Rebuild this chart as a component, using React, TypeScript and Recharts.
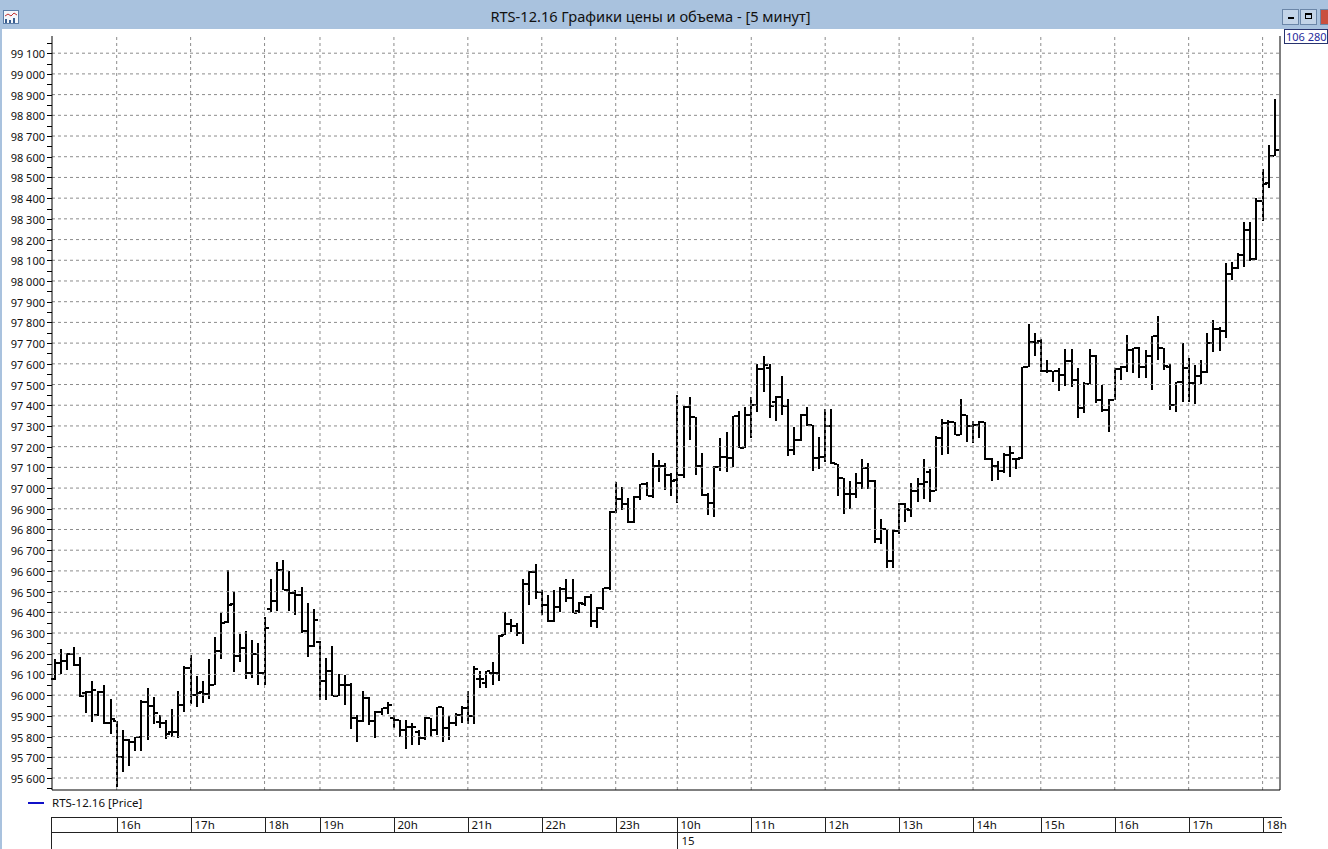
import { Bar, ComposedChart, ReferenceLine, XAxis, YAxis } from 'recharts';

// торговые сессии: день, час, минута начала, число 5-минутных баров
const SESSIONS: [string, number, number, number][] = [
  ['14', 15, 10, 43],
  ['14', 19, 0, 58],
  ['15', 10, 0, 48],
  ['15', 14, 5, 50],
];

const HOUR_TICKS = [
  '14 16:00', '14 17:00', '14 18:00', '14 19:00', '14 20:00', '14 21:00', '14 22:00', '14 23:00',
  '15 10:00', '15 11:00', '15 12:00', '15 13:00', '15 14:05', '15 15:00', '15 16:00', '15 17:00', '15 18:00',
];
const HOUR_LABELS = [
  '16h', '17h', '18h', '19h', '20h', '21h', '22h', '23h',
  '10h', '11h', '12h', '13h', '14h', '15h', '16h', '17h', '18h',
];
const DAY_TICK = '15 10:00';
const DAY_LABEL = '15';

const OPEN = [
  96078, 96155, 96165, 96200, 96145, 96010, 96013, 95905, 96013, 95864,
  95873, 95702, 95783, 95775, 95800, 95969, 95948, 95872, 95864, 95823, 95823, 95953,
  96131, 96001, 96013, 96006, 96050, 96212, 96352, 96440, 96188, 96226, 96106, 96199,
  96106, 96415, 96455, 96605, 96508, 96495, 96483, 96309, 96236,
  96255, 96066, 96115, 95998, 96050, 96050, 95889, 95873, 95985, 95873, 95921, 95937,
  95889, 95881, 95832, 95848, 95824, 95792, 95889, 95832, 95942, 95840, 95865, 95905,
  95937, 95900, 96076, 96060, 96108, 96108, 96289, 96342, 96334, 96302, 96539, 96595,
  96500, 96434, 96358, 96427, 96514, 96471, 96406, 96440, 96476, 96358, 96423, 96516,
  96885, 96945, 96925, 96835, 96957, 97020, 96960, 97105, 97105, 97064,
  97040, 97064, 97390, 97343, 97107, 96967, 96930, 97100, 97150, 97145, 97350, 97193,
  97355, 97400, 97575, 97580, 97414, 97440, 97398, 97186, 97230, 97355, 97305, 97146,
  97150, 97302, 97115, 97050, 96970, 96970, 97025, 97098, 97034, 96753, 96800, 96650,
  96793, 96925, 96895, 96985, 97022, 97080, 96985, 97242, 97315, 97318, 97258, 97352,
  97300, 97303, 97318, 97138, 97105, 97081, 97162, 97138, 97145, 97584, 97703,
  97710, 97563, 97563, 97563, 97547, 97612, 97523, 97386, 97504, 97636, 97423, 97378,
  97426, 97575, 97584, 97668, 97676, 97584, 97636, 97733, 97675, 97586, 97400, 97513,
  97578, 97505, 97540, 97562, 97700, 97770, 97760, 98034, 98062, 98126, 98247, 98108,
  98384, 98473, 98602,
];

const HIGH = [
  96176, 96223, 96205, 96232, 96185, 96020, 96066, 96018, 96050, 95980,
  95873, 95832, 95790, 95800, 95977, 96034, 95993, 95904, 95880, 95932, 96018, 96142,
  96196, 96093, 96066, 96176, 96281, 96395, 96603, 96498, 96293, 96312, 96265, 96252,
  96376, 96563, 96645, 96653, 96600, 96508, 96522, 96446, 96414,
  96260, 96179, 96235, 96102, 96095, 96061, 95905, 96021, 95993, 95924, 95937, 95969,
  95905, 95881, 95881, 95865, 95832, 95893, 95889, 95945, 95945, 95900, 95913, 95948,
  96018, 96140, 96116, 96116, 96160, 96289, 96402, 96366, 96350, 96560, 96600, 96632,
  96510, 96482, 96506, 96520, 96560, 96560, 96450, 96480, 96487, 96427, 96519, 96890,
  97030, 97005, 96950, 96960, 97020, 97027, 97170, 97135, 97120, 97072,
  97450, 97395, 97440, 97343, 97170, 96978, 97107, 97240, 97273, 97350, 97370, 97390,
  97440, 97600, 97640, 97600, 97443, 97540, 97430, 97295, 97360, 97390, 97305, 97245,
  97380, 97380, 97115, 97050, 97034, 97075, 97140, 97120, 97040, 96853, 96800, 96800,
  96930, 96930, 97025, 97050, 97138, 97090, 97250, 97334, 97328, 97320, 97430, 97352,
  97322, 97322, 97320, 97145, 97130, 97170, 97202, 97145, 97584, 97790, 97748,
  97720, 97620, 97563, 97580, 97671, 97671, 97580, 97510, 97671, 97644, 97500, 97430,
  97580, 97590, 97740, 97676, 97680, 97665, 97733, 97830, 97675, 97600, 97513, 97700,
  97627, 97594, 97619, 97747, 97812, 97776, 98086, 98094, 98134, 98287, 98287, 98400,
  98540, 98658, 98879,
];

const LOW = [
  96074, 96102, 96123, 96140, 95990, 95912, 95867, 95896, 95864, 95812,
  95556, 95629, 95660, 95731, 95731, 95783, 95861, 95840, 95790, 95799, 95790, 95920,
  95960, 95945, 95960, 95985, 96050, 96171, 96346, 96110, 96158, 96082, 96082, 96050,
  96050, 96405, 96409, 96508, 96409, 96385, 96300, 96184, 96230,
  95977, 95977, 95994, 95994, 95948, 95840, 95776, 95873, 95857, 95792, 95905, 95913,
  95840, 95800, 95743, 95760, 95760, 95784, 95803, 95808, 95776, 95784, 95848, 95865,
  95857, 95860, 96035, 96035, 96047, 96068, 96289, 96302, 96285, 96245, 96434, 96463,
  96390, 96350, 96350, 96400, 96447, 96395, 96395, 96430, 96326, 96326, 96414, 96510,
  96880, 96895, 96830, 96830, 96945, 96960, 96955, 97027, 96990, 96960,
  96930, 97045, 97232, 97064, 96960, 96870, 96862, 97080, 97080, 97105, 97193, 97190,
  97240, 97370, 97467, 97340, 97323, 97350, 97155, 97162, 97230, 97300, 97082, 97090,
  97122, 97114, 96960, 96875, 96900, 96953, 96995, 96995, 96734, 96734, 96610, 96610,
  96780, 96840, 96860, 96936, 96945, 96930, 96985, 97160, 97162, 97255, 97258, 97222,
  97218, 97242, 97138, 97033, 97040, 97073, 97050, 97090, 97138, 97580, 97636,
  97563, 97558, 97510, 97467, 97490, 97488, 97338, 97359, 97504, 97410, 97370, 97269,
  97426, 97523, 97563, 97555, 97531, 97531, 97470, 97618, 97570, 97378, 97368, 97416,
  97416, 97408, 97505, 97553, 97658, 97658, 97723, 98005, 98055, 98069, 98100, 98100,
  98287, 98448, 98602,
];

const CLOSE = [
  96155, 96165, 96200, 96145, 95995, 96015, 96025, 96013, 95864, 95883,
  95702, 95783, 95775, 95800, 95969, 95948, 95916, 95864, 95812, 95823, 95953, 96131,
  96001, 96010, 96005, 96050, 96212, 96350, 96435, 96188, 96226, 96106, 96199, 96106,
  96322, 96455, 96605, 96508, 96495, 96483, 96309, 96236, 96365,
  96066, 96115, 95994, 96050, 96050, 95889, 95873, 95985, 95873, 95921, 95937, 95953,
  95881, 95832, 95848, 95848, 95792, 95889, 95832, 95942, 95840, 95865, 95905, 95937,
  95897, 96124, 96076, 96115, 96108, 96285, 96342, 96334, 96302, 96539, 96595, 96500,
  96434, 96358, 96427, 96514, 96471, 96398, 96447, 96476, 96358, 96423, 96516, 96885,
  96945, 96925, 96835, 96957, 97020, 96960, 97105, 97105, 97064, 97032,
  97064, 97390, 97343, 97107, 96967, 96930, 97100, 97150, 97145, 97350, 97193, 97355,
  97400, 97575, 97596, 97395, 97440, 97398, 97186, 97230, 97355, 97305, 97146, 97150,
  97302, 97120, 97050, 96970, 96970, 97025, 97098, 97034, 96753, 96800, 96650, 96793,
  96925, 96900, 96985, 97022, 97030, 96985, 97242, 97315, 97318, 97258, 97352, 97300,
  97303, 97318, 97138, 97105, 97081, 97162, 97170, 97138, 97584, 97703, 97700,
  97563, 97563, 97563, 97547, 97612, 97523, 97386, 97504, 97636, 97423, 97378, 97426,
  97575, 97584, 97668, 97676, 97584, 97636, 97733, 97675, 97590, 97400, 97513, 97578,
  97505, 97540, 97562, 97700, 97770, 97760, 98034, 98062, 98126, 98247, 98108, 98384,
  98470, 98602, 98631,
];

const Y_DOMAIN = [95542, 99183];
const Y_TICKS: number[] = [];
for (let v = 95550; v <= 99150; v += 50) Y_TICKS.push(v);
const GRID_Y = Y_TICKS.filter((v) => v % 100 === 0);

const TIMES: string[] = [];
SESSIONS.forEach(([d, h, m, n]) => {
  for (let i = 0; i < n; i++) {
    const t = h * 60 + m + i * 5;
    TIMES.push(
      `${d} ${String(Math.floor(t / 60)).padStart(2, '0')}:${String(t % 60).padStart(2, '0')}`,
    );
  }
});

const data = TIMES.map((key, i) => ({
  key,
  open: OPEN[i],
  high: HIGH[i],
  low: LOW[i],
  close: CLOSE[i],
  range: [LOW[i], HIGH[i]],
}));

const FONT = '"Noto Sans", "DejaVu Sans", sans-serif';
const GRID = '#8c8c8c';

const fmt = (v: number) =>
  `${Math.floor(v / 1000)} ${String(v % 1000).padStart(3, '0')}`;

const OhlcBar = (props: any) => {
  const { x, y, width, height, payload } = props;
  if (x == null || y == null) return null;
  const cx = Math.round(x + width / 2);
  const span = payload.high - payload.low;
  const k = span > 0 ? height / span : 0;
  const oy = Math.round(y + (payload.high - payload.open) * k);
  const cy = Math.round(y + (payload.high - payload.close) * k);
  return (
    <g fill="#000" shapeRendering="crispEdges">
      <rect x={cx - 1} y={Math.round(y)} width={2} height={Math.max(2, Math.round(height))} />
      <rect x={cx - 4} y={oy - 1} width={3} height={2} />
      <rect x={cx + 1} y={cy - 1} width={3} height={2} />
    </g>
  );
};

const LeftTick = ({ x, y, payload }: any) => {
  const yy = Math.round(y) + 0.5;
  return (
    <g>
      <line x1={x - 5} x2={x} y1={yy} y2={yy} stroke="#000" />
      {payload.value % 100 === 0 && (
        <text x={x - 7} y={yy + 4} textAnchor="end" fontSize={11} fill="#111" fontFamily={FONT}>
          {fmt(payload.value)}
        </text>
      )}
    </g>
  );
};

const RightTick = ({ x, y, payload }: any) => {
  const yy = Math.round(y) + 0.5;
  return (
    <g>
      <line x1={x} x2={x + 5} y1={yy} y2={yy} stroke="#000" />
      {payload.value % 100 === 0 && (
        <text x={x + 8} y={yy + 4} textAnchor="start" fontSize={11} fill="#111" fontFamily={FONT}>
          {fmt(payload.value)}
        </text>
      )}
    </g>
  );
};

const HourTick = ({ x, y, payload }: any) => {
  const i = HOUR_TICKS.indexOf(payload.value);
  if (i < 0) return null;
  const xx = Math.round(x) + 0.5;
  const isDay = payload.value === DAY_TICK;
  return (
    <g>
      <line x1={xx} x2={xx} y1={y + 27} y2={isDay ? y + 59 : y + 42} stroke="#222" />
      <text x={xx + 3} y={y + 38.5} fontSize={11.5} fill="#111" fontFamily={FONT}>
        {HOUR_LABELS[i]}
      </text>
      {isDay && (
        <text x={xx + 4} y={y + 55} fontSize={11.5} fill="#111" fontFamily={FONT}>
          {DAY_LABEL}
        </text>
      )}
    </g>
  );
};

const Icon = () => (
  <svg width={16} height={14} style={{ position: 'absolute', left: 3, top: 10 }}>
    <rect x={0.5} y={0.5} width={15} height={13} fill="#f4f7fb" stroke="#5d7ea8" />
    <polyline points="2,6 5,4 8,6 11,3 14,5" fill="none" stroke="#c03030" strokeWidth={1} />
    <rect x={2} y={9} width={2} height={4} fill="#3a5f91" />
    <rect x={6} y={10} width={2} height={3} fill="#3a5f91" />
    <rect x={10} y={8} width={2} height={5} fill="#3a5f91" />
  </svg>
);

const btn = (left: number, width: number, bg: string): React.CSSProperties => ({
  position: 'absolute',
  left,
  top: 9,
  width,
  height: 16,
  background: bg,
  border: '1px solid #6b86a8',
  boxSizing: 'border-box',
});

export default function App() {
  return (
    <div
      style={{
        position: 'absolute',
        left: 0,
        top: 0,
        width: 1328,
        height: 849,
        background: '#fff',
        overflow: 'hidden',
        fontFamily: FONT,
      }}
    >
      {/* заголовок окна */}
      <div style={{ position: 'absolute', left: 0, top: 0, width: 1328, height: 29, background: '#a9c2de' }}>
        <Icon />
        <div
          style={{
            position: 'absolute',
            left: 0,
            top: 6,
            width: 1301,
            textAlign: 'center',
            fontSize: 14.6,
            lineHeight: '20px',
            color: '#111',
            whiteSpace: 'nowrap',
          }}
        >
          RTS-12.16 Графики цены и объема - [5 минут]
        </div>
        <div style={btn(1282, 17, '#c3d4e8')}>
          <div style={{ position: 'absolute', left: 5, top: 7, width: 6, height: 2, background: '#000' }} />
        </div>
        <div style={btn(1300, 17, '#c3d4e8')}>
          <div
            style={{
              position: 'absolute',
              left: 4,
              top: 3,
              width: 7,
              height: 6,
              border: '1px solid #000',
              borderTopWidth: 2,
              boxSizing: 'border-box',
            }}
          />
        </div>
        <div style={btn(1320, 12, '#c9503f')} />
      </div>
      <div style={{ position: 'absolute', left: 0, top: 29, width: 2, height: 820, background: '#a9c2de' }} />

      {/* текущее значение справа */}
      <div
        style={{
          position: 'absolute',
          left: 1284,
          top: 29,
          width: 44,
          height: 15,
          border: '1px solid #27336e',
          boxSizing: 'border-box',
          fontSize: 11,
          lineHeight: '13px',
          color: '#1f2a9c',
          paddingLeft: 1,
          background: '#fff',
          whiteSpace: 'nowrap',
        }}
      >
        106 280
      </div>

      {/* легенда */}
      <div style={{ position: 'absolute', left: 28, top: 802, width: 16, height: 2, background: '#1010c8' }} />
      <div style={{ position: 'absolute', left: 52, top: 795, fontSize: 11.5, lineHeight: '16px', color: '#111' }}>
        RTS-12.16 [Price]
      </div>

      {/* рамка шкалы времени */}
      <div style={{ position: 'absolute', left: 52, top: 817, width: 1230, height: 1, background: '#222' }} />
      <div style={{ position: 'absolute', left: 52, top: 832, width: 1230, height: 1, background: '#222' }} />
      <div style={{ position: 'absolute', left: 51, top: 817, width: 1, height: 32, background: '#222' }} />

      <div style={{ position: 'absolute', left: 0, top: 0 }}>
        <ComposedChart
          width={1328}
          height={849}
          data={data}
          margin={{ top: 36, right: 0, bottom: 0, left: 0 }}
        >
          <XAxis
            dataKey="key"
            ticks={HOUR_TICKS}
            interval={0}
            height={59}
            tickSize={0}
            tickMargin={0}
            tick={<HourTick />}
            axisLine={{ stroke: '#000' }}
            tickLine={false}
            padding={{ left: 0, right: 2 }}
          />
          <XAxis
            xAxisId="top"
            dataKey="key"
            orientation="top"
            height={0}
            tick={false}
            tickLine={false}
            axisLine={{ stroke: '#000' }}
            padding={{ left: 0, right: 2 }}
          />
          <YAxis
            domain={Y_DOMAIN}
            ticks={Y_TICKS}
            interval={0}
            width={52}
            tickSize={0}
            tickMargin={0}
            tick={<LeftTick />}
            tickLine={false}
            axisLine={{ stroke: '#000' }}
          />
          <YAxis
            yAxisId="right"
            orientation="right"
            domain={Y_DOMAIN}
            ticks={Y_TICKS}
            interval={0}
            width={48}
            tickSize={0}
            tickMargin={0}
            tick={<RightTick />}
            tickLine={false}
            axisLine={{ stroke: '#000' }}
          />
          {GRID_Y.map((v) => (
            <ReferenceLine key={`gy-${v}`} y={v} stroke={GRID} strokeDasharray="3 3" />
          ))}
          {HOUR_TICKS.map((t) => (
            <ReferenceLine key={`gx-${t}`} x={t} stroke={GRID} strokeDasharray="3 3" />
          ))}
          <Bar dataKey="range" shape={<OhlcBar />} isAnimationActive={false} />
        </ComposedChart>
      </div>
    </div>
  );
}
